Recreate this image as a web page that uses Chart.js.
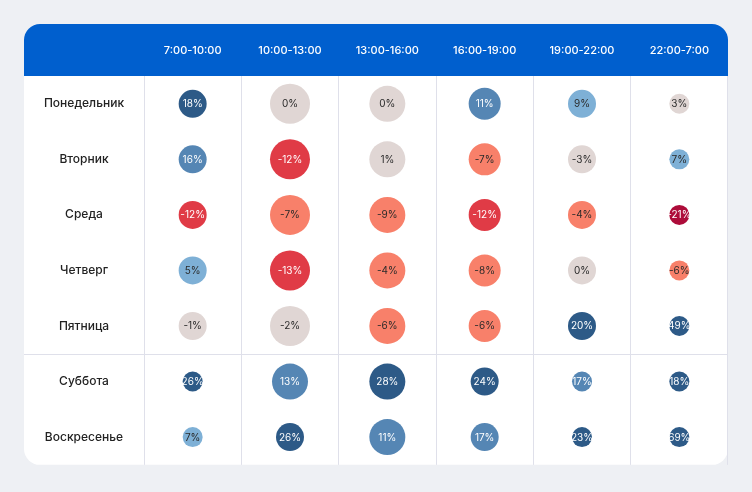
<!DOCTYPE html>
<html>
<head>
<meta charset="utf-8">
<script src="https://cdn.jsdelivr.net/npm/chart.js@4"></script>
<style>
  html, body { margin: 0; padding: 0; background: #eef0f4; }
  #wrap { width: 752px; height: 492px; }
</style>
</head>
<body>
<div id="wrap"><canvas id="heatChart" width="752" height="492"></canvas></div>
<script>
    // Time slots (columns) and days (rows)
    const slots = ['7:00-10:00', '10:00-13:00', '13:00-16:00', '16:00-19:00', '19:00-22:00', '22:00-7:00'];
    const days = ['Понедельник', 'Вторник', 'Среда', 'Четверг', 'Пятница', 'Суббота', 'Воскресенье'];

    // Change, %, one array per day
    const monChange = [18, 0, 0, 11, 9, 3];
    const tueChange = [16, -12, 1, -7, -3, 7];
    const wedChange = [-12, -7, -9, -12, -4, -21];
    const thuChange = [5, -13, -4, -8, 0, -6];
    const friChange = [-1, -2, -6, -6, 20, 49];
    const satChange = [26, 13, 28, 24, 17, 18];
    const sunChange = [7, 26, 11, 17, 23, 69];

    // Relative volume per slot (bubble size)
    const monVolume = [7, 10, 9, 8, 7, 5];
    const tueVolume = [7, 10, 9, 8, 7, 5];
    const wedVolume = [7, 10, 9, 8, 7, 5];
    const thuVolume = [7, 10, 9, 8, 7, 5];
    const friVolume = [7, 10, 9, 8, 7, 5];
    const satVolume = [5, 9, 9, 7, 5, 5];
    const sunVolume = [5, 7, 9, 7, 5, 5];

    const changes = [monChange, tueChange, wedChange, thuChange, friChange, satChange, sunChange];
    const volumes = [monVolume, tueVolume, wedVolume, thuVolume, friVolume, satVolume, sunVolume];

    const FONT = 'Inter';

    // Colour scale by change value
    function fillFor(v) {
        if (v >= 18) return '#2d5a87';
        if (v >= 10) return '#5586b4';
        if (v >= 4) return '#7eb0d6';
        if (v >= -3) return '#e0d6d4';
        if (v >= -9) return '#f8806a';
        if (v >= -15) return '#e03b46';
        return '#ad0c3a';
    }
    function textFor(v) {
        if (v >= 10 || v <= -10) return '#ffffff';
        return '#2a2a2a';
    }

    const points = [];
    days.forEach((d, di) => {
        slots.forEach((s, si) => {
            points.push({ x: s, y: d, r: volumes[di][si] * 2, v: changes[di][si] });
        });
    });

    // centre the day labels inside the first column
    const meas = document.createElement('canvas').getContext('2d');
    meas.font = '500 12px ' + FONT;
    const widest = Math.max(...days.map(d => meas.measureText(d).width));
    const dayPadding = 60 - widest / 2;

    // Card, header band and weekend separator
    const cardPlugin = {
        id: 'card',
        beforeDraw(chart) {
            const ctx = chart.ctx;
            const area = chart.chartArea;
            const left = 24, top = 24, right = area.right, bottom = area.bottom;
            ctx.save();
            ctx.fillStyle = '#eef0f4';
            ctx.fillRect(0, 0, chart.width, chart.height);
            ctx.fillStyle = '#ffffff';
            ctx.beginPath();
            ctx.roundRect(left, top, right - left, bottom - top, 16);
            ctx.fill();
            ctx.fillStyle = '#005fce';
            ctx.beginPath();
            ctx.roundRect(left, top, right - left, area.top - top, [16, 16, 0, 0]);
            ctx.fill();
            // line between working days and weekend
            const y = chart.scales.y;
            const ySep = Math.round((y.getPixelForValue(4) + y.getPixelForValue(5)) / 2) + 0.5;
            ctx.strokeStyle = '#dfe0ea';
            ctx.lineWidth = 1;
            ctx.beginPath();
            ctx.moveTo(left, ySep);
            ctx.lineTo(right, ySep);
            ctx.stroke();
            ctx.restore();
        }
    };

    // Value labels inside bubbles
    const valuePlugin = {
        id: 'values',
        afterDatasetsDraw(chart) {
            const ctx = chart.ctx;
            const meta = chart.getDatasetMeta(0);
            ctx.save();
            ctx.font = '10px ' + FONT;
            ctx.textAlign = 'center';
            ctx.textBaseline = 'middle';
            meta.data.forEach((el, i) => {
                const p = points[i];
                ctx.fillStyle = textFor(p.v);
                ctx.fillText(p.v + '%', el.x, el.y + 0.5);
            });
            ctx.restore();
        }
    };

    const config = {
        type: 'bubble',
        data: {
            datasets: [{
                data: points,
                backgroundColor: c => fillFor(c.raw.v),
                borderWidth: 0,
                hoverRadius: 0,
                hoverBorderWidth: 0
            }]
        },
        options: {
            responsive: false,
            animation: false,
            events: [],
            layout: { padding: { left: 24, right: 24, top: 24, bottom: 25 } },
            plugins: {
                legend: { display: false },
                tooltip: { enabled: false }
            },
            scales: {
                x: {
                    type: 'category',
                    labels: slots,
                    position: 'top',
                    offset: true,
                    grid: {
                        offset: true,
                        drawTicks: false,
                        color: c => c.index === slots.length ? 'rgba(0,0,0,0)' : '#dfe0ea'
                    },
                    border: { display: false },
                    ticks: {
                        color: '#ffffff',
                        padding: 19,
                        maxRotation: 0,
                        font: { family: FONT, size: 11, weight: 500 }
                    },
                    afterFit: s => { s.height = 52; }
                },
                y: {
                    type: 'category',
                    labels: days,
                    offset: true,
                    grid: { display: false, drawTicks: false },
                    border: { display: false },
                    ticks: {
                        color: '#222222',
                        crossAlign: 'center',
                        padding: dayPadding,
                        font: { family: FONT, size: 12, weight: 500 }
                    },
                    afterFit: s => { s.width = 120; }
                }
            }
        },
        plugins: [cardPlugin, valuePlugin]
    };

    const heatChart = new Chart(document.getElementById('heatChart'), config);
</script>
</body>
</html>
